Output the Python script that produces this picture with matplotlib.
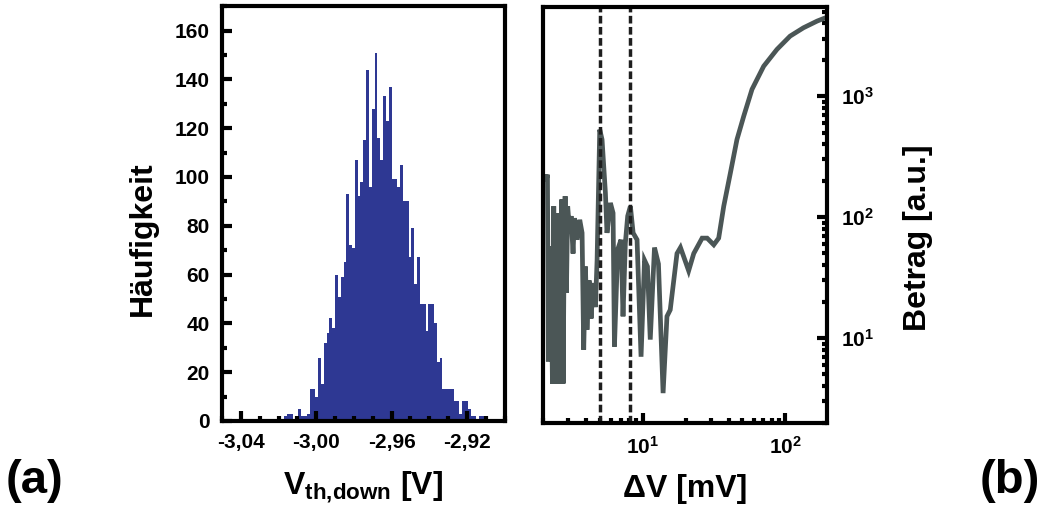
# Histogramm der Schwellspannung (a) und Spektrum (b)
import numpy as np
import matplotlib
matplotlib.use('Agg')
import matplotlib.pyplot as plt
from matplotlib.ticker import FixedLocator, MultipleLocator, FuncFormatter, LogLocator

plt.rcParams['font.family'] = ['Liberation Sans', 'DejaVu Sans']
plt.rcParams['font.weight'] = 'bold'
plt.rcParams['mathtext.default'] = 'regular'

# --- (a) Histogramm, Bins von -3,05 V bis -2,90 V
bin_start = -3.05
bin_width = 0.0015
counts = [0, 0, 0, 0, 0, 0, 0, 0, 0, 0,
          0, 1, 1, 0, 1, 1, 1, 1, 0, 1,
          1, 1, 2, 3, 3, 1, 2, 5, 2, 2,
          3, 13, 13, 10, 26, 15, 32, 36, 42, 38,
          60, 51, 59, 65, 93, 72, 71, 107, 92, 98,
          115, 144, 96, 128, 151, 116, 107, 133, 123, 137,
          99, 99, 96, 105, 90, 90, 67, 79, 56, 67,
          48, 48, 37, 48, 48, 40, 24, 26, 13, 13,
          13, 13, 8, 8, 3, 8, 8, 5, 2, 2,
          1, 2, 2, 1, 1, 1, 1, 1, 0, 0]
hist_xticks = [-3.04, -3.00, -2.96, -2.92]

# --- (b) Betrag über Delta V
dv = [2.11, 2.15, 2.18, 2.23, 2.28, 2.33, 2.38, 2.43, 2.48, 2.54,
      2.59, 2.65, 2.71, 2.77, 2.80, 2.86, 2.92, 2.98, 3.08, 3.15,
      3.25, 3.32, 3.47, 3.62, 3.76, 3.86, 3.97, 4.07, 4.21, 4.35,
      4.49, 4.66, 4.79, 5.00, 5.19, 5.48, 5.62, 5.94, 6.20, 6.34,
      6.68, 7.05, 7.28, 7.56, 7.85, 8.20, 8.57, 9.13, 9.74, 10.3,
      10.8, 11.3, 12.1, 12.9, 13.9, 14.8, 15.6, 17.4, 18.4, 19.4,
      21.0, 22.8, 26.1, 28.3, 31.5, 34.1, 37.0, 41.2, 45.8, 51.1,
      58.4, 70.5, 87.4, 108, 134, 167, 191]
betrag = [204, 225, 6.4, 57, 50, 4.2, 123, 4.2, 108, 4.2,
          102, 4.2, 140, 4.2, 23.6, 149, 23.6, 123, 74, 102,
          50, 98, 65, 95, 74, 8.0, 39, 11.7, 30, 14.5,
          28.5, 18, 44, 530, 438, 158, 74, 131, 108, 8.5,
          54, 65, 15.1, 61, 102, 123, 74, 65, 7.0, 44,
          39, 9.7, 56, 41, 3.5, 15.1, 17.1, 50, 56, 47,
          36, 50, 67, 67, 59, 67, 123, 232, 438, 684,
          1140, 1770, 2440, 3140, 3680, 4180, 4450]
marker_lines = [5.0, 8.2]

fig = plt.figure(figsize=(10.47, 5.14), dpi=100)
ax1 = fig.add_axes([0.212, 0.181, 0.270, 0.807])
ax2 = fig.add_axes([0.5186, 0.178, 0.2713, 0.809])

for ax in (ax1, ax2):
    for sp in ax.spines.values():
        sp.set_linewidth(3)

# (a)
edges = bin_start + bin_width * np.arange(len(counts))
ax1.bar(edges, counts, width=bin_width, align='edge', color='#2e3893', linewidth=0)
ax1.set_xlim(-3.05, -2.90)
ax1.set_ylim(0, 170)
ax1.xaxis.set_major_locator(FixedLocator(hist_xticks))
ax1.xaxis.set_minor_locator(MultipleLocator(0.01))
ax1.xaxis.set_major_formatter(FuncFormatter(lambda v, p: f'{v:.2f}'.replace('.', ',')))
ax1.yaxis.set_major_locator(MultipleLocator(20))
ax1.yaxis.set_minor_locator(MultipleLocator(10))
ax1.tick_params(which='both', direction='in', top=False, right=False, labelsize=15, width=3)
ax1.tick_params(which='major', length=7.5, pad=9)
ax1.tick_params(which='minor', length=3.5)
ax1.set_xlabel(r'V$_{\mathdefault{th{,}down}}$ [V]', fontsize=23, fontweight='bold', labelpad=12)
ax1.set_ylabel('Häufigkeit', fontsize=23, fontweight='bold')
ax1.yaxis.set_label_coords(-0.225, 0.44)

# (b)
ax2.plot(dv, betrag, color='#4b5656', linewidth=3.4, solid_joinstyle='miter')
for xv in marker_lines:
    ax2.axvline(xv, color='#1e1e1e', linewidth=2.5, dashes=(2.2, 1.0))
ax2.set_xscale('log')
ax2.set_yscale('log')
ax2.set_xlim(2, 196)
ax2.set_ylim(2, 5500)
ax2.yaxis.tick_right()
ax2.yaxis.set_label_position('right')
ax2.xaxis.set_minor_locator(LogLocator(base=10, subs=np.arange(2, 10)))
ax2.yaxis.set_minor_locator(LogLocator(base=10, subs=np.arange(2, 10)))
ax2.tick_params(which='both', direction='in', top=False, left=False, right=True,
                labelsize=15, width=3)
ax2.tick_params(which='major', length=7.5, pad=10)
ax2.tick_params(which='minor', length=3.5)
ax2.set_xlabel('ΔV [mV]', fontsize=23, fontweight='bold', labelpad=11)
ax2.set_ylabel('Betrag [a.u.]', fontsize=23, fontweight='bold')
ax2.yaxis.set_label_coords(1.268, 0.444)

fig.text(0.005, 0.065, '(a)', fontsize=34, fontweight='bold', ha='left', va='center')
fig.text(0.993, 0.065, '(b)', fontsize=34, fontweight='bold', ha='right', va='center')

fig.savefig('out.png', dpi=100)
